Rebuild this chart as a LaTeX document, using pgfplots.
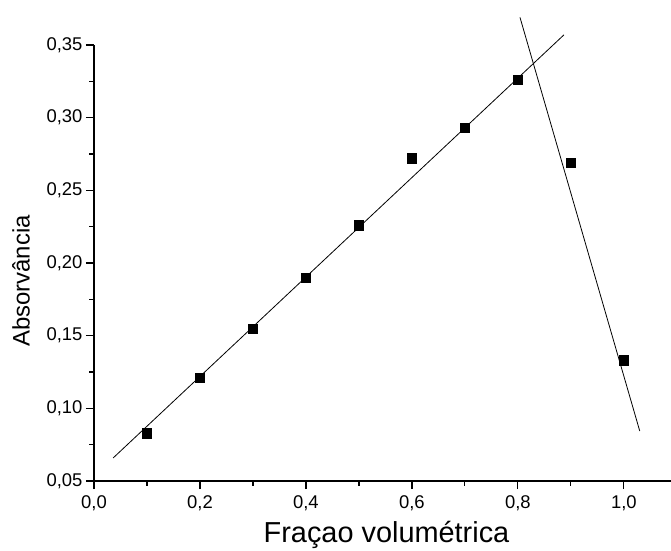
\documentclass[border=0pt]{standalone}
\usepackage{pgfplots}
\pgfplotsset{compat=1.18}
\usepackage{fontspec}
\setmainfont{Liberation Sans}
\begin{document}
\begin{tikzpicture}
\begin{axis}[
    scale only axis,
    width=577bp,
    height=436bp,
    xmin=0, xmax=1.089,
    ymin=0.05, ymax=0.35,
    axis x line=bottom,
    axis y line=left,
    axis line style={-, line width=1.2bp},
    xtick={0,0.2,...,1.0},
    ytick={0.05,0.10,...,0.35},
    minor x tick num=1,
    minor y tick num=1,
    tick align=outside,
    major tick length=8bp,
    minor tick length=4.5bp,
    every tick/.style={black, line width=1.2bp},
    xticklabel style={yshift=-3bp, /pgf/number format/.cd, use comma, fixed, fixed zerofill, precision=1},
    yticklabel style={/pgf/number format/.cd, use comma, fixed, fixed zerofill, precision=2},
    /pgf/number format/assume math mode=true,
    tick label style={font=\fontsize{18.5}{21}\selectfont},
    xlabel={Fraçao volumétrica},
    ylabel={Absorvância},
    xlabel style={font=\fontsize{29}{33}\selectfont, at={([xshift=4bp,yshift=-61bp]axis description cs:0.5,0)}, anchor=base},
    ylabel style={font=\fontsize{24}{28}\selectfont, at={([xshift=-73bp,yshift=-18bp]axis description cs:0,0.5)}, anchor=center},
    clip=false,
]
\addplot[only marks, mark=square*, mark size=4.7bp, black] coordinates {
(0.1,0.083) (0.2,0.121) (0.3,0.155) (0.4,0.190) (0.5,0.226)
(0.6,0.272) (0.7,0.293) (0.8,0.326) (0.9,0.269) (1.0,0.133)
};
\addplot[black, line width=0.8bp] coordinates {(0.036,0.0658) (0.887,0.357)};
\addplot[black, line width=0.8bp] coordinates {(0.804,0.369) (1.030,0.0844)};
\coordinate (bl) at (rel axis cs:0,0);
\coordinate (tr) at (rel axis cs:1,1);
\end{axis}
\pgfresetboundingbox
\path ([xshift=-94bp,yshift=-70bp]bl) rectangle ([yshift=45bp]tr);
\end{tikzpicture}
\end{document}
